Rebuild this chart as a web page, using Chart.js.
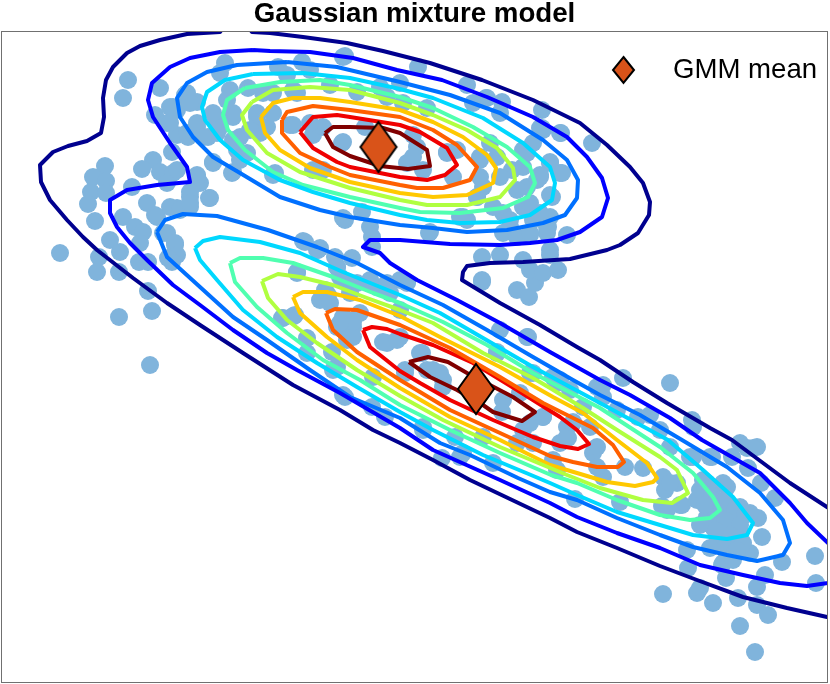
<!DOCTYPE html>
<html>
<head>
<meta charset="utf-8">
<title>Gaussian mixture model</title>
<script src="https://cdn.jsdelivr.net/npm/chart.js@4"></script>
<style>
  body { margin: 0; background: #fff; }
  canvas { display: block; }
</style>
</head>
<body>
<canvas id="chart" width="830" height="684"></canvas>
<script>
const xRange = [1, 828];
const yRange = [31, 683];

//observations
const samples = [
  [128,80],[123,98],[160,88],[155,115],[173,107],[185,95],[197,102],[167,123],[177,135],[188,137],[197,127],[208,137],
  [213,162],[232,173],[172,152],[153,160],[142,169],[160,172],[173,173],[197,175],[200,183],[167,183],[132,187],[209,198],
  [147,203],[190,197],[190,207],[177,208],[155,215],[105,166],[93,177],[106,181],[91,192],[88,204],[106,193],[95,221],
  [123,217],[135,227],[143,232],[167,233],[175,245],[110,240],[120,252],[60,253],[99,257],[97,272],[119,272],[139,262],
  [148,262],[140,243],[148,291],[152,311],[119,317],[150,365],[163,233],[175,243],[177,255],[168,258],[172,262],[157,217],
  [303,241],[317,250],[297,272],[282,318],[294,316],[307,338],[307,353],
  [220,73],[230,90],[248,88],[217,120],[233,113],[257,117],[260,133],[247,153],[233,140],[217,133],[240,160],
  [345,56],[418,67],[467,85],[487,98],[502,102],[542,110],[302,62],[278,67],[400,83],[380,87],[473,103],[542,128],[527,153],
  [343,142],[313,135],[365,127],[323,127],[290,125],[413,135],[417,147],[407,163],[447,153],[453,177],[480,160],[490,143],
  [323,170],[273,175],[345,220],[362,212],[370,227],[430,232],[463,217],[305,242],[320,248],[372,247],[510,227],[503,213],
  [523,207],[523,167],[527,187],[533,220],[483,187],[477,197],[537,180],[403,103],[427,108],[387,97],[357,92],[330,85],[293,90],
  [592,143],[561,133],[543,130],[550,163],[560,173],[552,197],[550,217],[567,235],[540,177],[548,227],[550,250],
  [318,250],[335,257],[352,258],[429,233],[482,257],[500,255],[523,260],[550,255],[482,280],[517,290],[529,297],[535,283],
  [530,270],[543,273],[558,270],[517,237],[530,235],[547,233],[297,273],[327,297],[325,290],[337,267],[343,280],[347,320],
  [337,327],[370,283],[390,293],[400,310],[407,282],[295,315],[333,370],[343,395],[372,407],[385,417],[423,430],[442,458],
  [347,340],[383,342],[400,337],[420,353],[405,370],[440,373],[443,387],[500,330],[528,337],[497,353],[530,373],[503,400],
  [543,417],[560,443],[567,427],[523,430],[483,437],[460,457],[373,377],[320,300],[360,313],[353,327],[553,377],
  [670,383],[623,378],[603,385],[692,420],[693,427],[747,448],[757,447],[732,457],[748,468],[761,483],[775,498],[758,518],
  [762,537],[815,556],[782,562],[687,550],[688,568],[750,513],[575,499],[620,502],[603,477],[593,453],[568,438],[573,422],
  [625,467],[643,468],[665,490],[662,506],[682,505],[700,497],[690,457],[710,457],[707,483],[727,487],[730,507],[707,517],
  [720,527],[737,523],[717,543],[743,543],[727,557],[750,553],[638,417],[650,415],[617,410],[660,430],[670,447],[583,407],
  [603,397],[560,380],[663,477],[677,483],[723,563],
  [663,594],[697,593],[700,588],[713,603],[738,598],[757,587],[765,575],[757,605],[768,615],[740,626],[755,652],[816,583],
  [726,578],[722,565],[733,560],[730,543],[710,520],[720,520],[740,507],[727,507],[720,533],[740,533],[713,527]
];

//extra observations inside the dense parts of the clusters
const denseSamples = [
  [486,98],[560,133],[540,128],[500,113],[523,150],[550,162],[562,173],[540,175],[550,195],[533,143],[512,170],[500,177],[517,190],
  [480,157],[457,150],[447,152],[477,197],[493,207],[460,217],[467,220],[510,220],[503,233],[517,237],[530,233],[540,213],[547,227],
  [413,157],[423,170],[480,177],[497,157],[530,203],
  [225,63],[227,100],[310,70],[343,57],[187,93],[177,110],[170,107],[190,103],[170,123],[187,133],[197,123],[203,137],[213,163],
  [233,172],[237,150],[240,137],[233,117],[220,127],[213,113],[257,113],[250,130],[267,127],[263,93],[273,93],[273,113],[297,93],
  [293,125],[310,123],[342,143],[275,173],[313,170],[177,170],[197,177],[190,192],[210,198],[170,207],[180,210],[190,203],[343,218],[287,75],
  [337,267],[340,277],[370,280],[323,298],[328,295],[350,293],[343,317],[343,330],[353,337],[387,343],[397,340],[283,318],[293,316],
  [332,352],[337,367],[345,397],[372,237],[377,287],[400,280],[330,303],[353,322],[340,323],[387,283],[357,283],
  [482,282],[527,337],[422,353],[407,283],[433,370],[443,380],[427,370],[497,352],[533,373],[520,393],[557,383],[570,390],[597,387],
  [502,412],[530,423],[543,417],[567,437],[573,423],[590,427],[597,447],[597,467],[423,427],[405,373],[463,453],[455,437],[493,463],
  [517,443],[533,443],[553,460],[557,470],
  [753,448],[740,443],[670,483],[680,505],[667,510],[693,457],[712,457],[703,480],[723,483],[697,500],[710,523],
  [700,490],[712,495],[725,500],[735,510],[745,515],[715,510],[725,520],[705,505],[740,525],[730,535],[715,530],[700,525],[742,545],
  [725,548],[735,552],[710,548],[737,550]
];

//density contours, lowest level first
const levelNavy = [
  [236,10],[220,32],[187,34],[160,40],[140,46],[127,53],[113,67],[106,80],[103,98],[104,117],[101,133],[87,141],[68,146],[53,152],
  [40,165],[41,182],[50,200],[67,220],[83,237],[97,250],[133,278],[167,303],[200,325],[243,353],[293,385],[340,410],[373,430],[400,443],
  [433,460],[470,480],[510,499],[550,518],[577,532],[617,548],[660,566],[697,580],[743,597],[787,608],[827,617],[840,620]
];
const levelNavyUpper = [
  [236,10],[252,32],[270,33],[303,37],[347,43],[383,51],[430,63],[482,80],[533,100],[580,123],[607,145],[630,167],[643,183],[650,202],
  [649,215],[638,233],[620,245],[607,250],[570,259],[523,262],[490,263],[467,266],[463,272],[462,280],[500,303],[540,325],[577,347],
  [600,360],[633,382],[667,403],[710,428],[732,440],[790,483],[827,507],[850,522]
];
const levelBlue = [
  [253,50],[270,51],[310,52],[353,58],[397,70],[442,80],[487,97],[533,117],[567,137],[587,157],[602,178],[608,198],[602,217],[580,232],
  [557,240],[530,243],[500,245],[450,244],[400,240],[370,240],[363,247],[380,253],[390,263],[417,280],[457,300],[500,323],[550,352],
  [600,380],[630,395],[670,418],[702,440],[760,473],[790,503],[807,523],[827,542],[840,555],[840,580],[828,583],[807,586],[780,583],
  [743,575],[700,565],[660,548],[617,533],[577,517],[550,503],[500,480],[433,450],[400,428],[340,393],[297,370],[267,353],[233,330],
  [200,305],[173,285],[147,260],[130,243],[117,227],[110,213],[110,200],[127,190],[157,185],[190,182],[187,167],[170,143],[153,117],
  [148,100],[152,83],[170,67],[190,58],[220,52],[253,50]
];
const levelAzureUpper = [
  [287,62],[337,67],[400,82],[450,95],[500,113],[543,140],[567,160],[578,180],[577,198],[565,215],[543,223],[507,230],[467,232],[433,228],
  [400,225],[350,217],[320,210],[280,197],[240,173],[213,157],[193,137],[180,117],[177,98],[187,83],[207,72],[237,65],[287,62]
];
const levelAzureLower = [
  [157,232],[165,220],[183,214],[217,216],[268,230],[317,247],[357,263],[400,285],[443,305],[487,330],[533,357],[573,380],[600,395],[640,415],
  [682,440],[727,467],[760,493],[783,520],[790,543],[783,555],[757,561],[727,555],[693,547],[660,535],[617,518],[577,500],[550,492],[518,478],
  [470,455],[440,443],[400,418],[350,397],[310,370],[267,340],[233,317],[200,287],[167,257],[157,232]
];
const levelCyanUpper = [
  [253,74],[303,73],[350,78],[400,89],[433,98],[483,118],[523,143],[550,167],[555,183],[552,200],[530,215],[500,222],[460,223],[427,220],
  [400,215],[350,203],[313,192],[280,180],[243,160],[220,140],[205,120],[202,107],[207,92],[225,80],[253,74]
];
const levelCyanLower = [
  [195,248],[203,241],[220,237],[260,242],[300,253],[343,272],[400,295],[440,313],[483,338],[533,367],[600,403],[668,440],[703,470],[733,497],
  [753,523],[747,535],[727,539],[693,535],[660,525],[617,512],[577,495],[550,483],[531,475],[483,455],[433,430],[400,412],[357,387],[317,363],
  [277,337],[243,310],[217,280],[200,260],[195,248]
];
const levelTealUpper = [
  [245,88],[280,82],[320,80],[350,85],[400,97],[433,108],[473,127],[507,147],[530,167],[535,183],[528,197],[503,208],[460,213],[420,212],
  [400,208],[350,197],[303,185],[273,172],[245,150],[228,130],[223,115],[227,100],[245,88]
];
const levelTealLower = [
  [230,263],[240,258],[263,258],[293,263],[333,277],[373,293],[400,303],[443,322],[487,345],[533,373],[600,408],[660,447],[693,473],[713,497],
  [720,510],[710,518],[690,520],[660,515],[617,500],[577,483],[551,475],[500,453],[450,430],[400,405],[360,380],[323,360],[287,333],[257,307],
  [235,282],[230,263]
];
const levelLimeUpper = [
  [252,102],[273,90],[310,87],[350,90],[400,103],[433,115],[467,130],[497,148],[513,168],[515,180],[500,197],[467,205],[427,205],[400,200],
  [350,188],[300,172],[267,153],[247,130],[242,115],[252,102]
];
const levelLimeLower = [
  [262,281],[278,274],[300,277],[333,285],[367,298],[400,310],[433,323],[483,353],[533,378],[550,388],[583,408],[617,430],[660,457],[677,470],
  [688,493],[672,503],[643,500],[600,488],[567,475],[500,447],[443,420],[400,396],[357,370],[317,343],[287,320],[268,298],[262,281]
];
const levelYellowUpper = [
  [261,117],[273,103],[293,98],[320,98],[350,102],[400,110],[433,122],[463,137],[487,155],[496,168],[493,183],[467,195],[433,197],[400,193],
  [350,182],[310,168],[280,150],[265,133],[261,117]
];
const levelYellowLower = [
  [293,297],[303,292],[327,292],[360,300],[400,316],[440,337],[500,367],[553,397],[583,413],[617,440],[647,463],[657,478],[653,482],[635,486],
  [607,482],[577,473],[550,465],[500,440],[450,417],[400,388],[357,360],[327,337],[300,313],[293,297]
];
const levelOrangeUpper = [
  [282,120],[287,112],[313,106],[350,110],[400,117],[433,130],[457,145],[477,167],[470,180],[443,188],[417,188],[400,185],[370,179],[350,175],
  [330,167],[300,153],[282,133],[282,120]
];
const levelOrangeLower = [
  [326,313],[335,309],[357,310],[400,325],[450,348],[500,377],[543,403],[593,428],[613,445],[624,462],[618,467],[597,467],[573,462],[550,456],
  [500,433],[450,410],[400,380],[357,352],[333,330],[326,313]
];
const levelRedUpper = [
  [300,132],[313,117],[337,115],[350,117],[400,125],[420,132],[447,148],[457,165],[445,175],[427,180],[400,177],[350,167],[337,162],[313,148],[300,132]
];
const levelRedLower = [
  [363,330],[372,327],[387,329],[400,334],[433,345],[473,363],[517,390],[560,417],[577,430],[589,444],[578,449],[560,446],[533,437],[493,420],
  [450,400],[420,383],[400,371],[370,347],[363,330]
];
const levelDarkRedUpper = [
  [325,133],[333,127],[350,127],[383,128],[400,133],[427,150],[430,166],[408,169],[380,166],[350,156],[333,147],[325,133]
];
const levelDarkRedLower = [
  [409,362],[428,357],[448,362],[467,373],[513,397],[535,412],[522,421],[493,412],[483,405],[457,390],[430,377],[409,362]
];

const gmmMeans = [[378.5,147],[476,389]];
const legendLabels = ['GMM mean'];
const titleText = 'Gaussian mixture model';

const contours = [
  [levelNavy, '#00008f'], [levelNavyUpper, '#00008f'],
  [levelBlue, '#0000ff'],
  [levelAzureUpper, '#0070ff'], [levelAzureLower, '#0070ff'],
  [levelCyanUpper, '#00d8ff'], [levelCyanLower, '#00d8ff'],
  [levelTealUpper, '#50ffb0'], [levelTealLower, '#50ffb0'],
  [levelLimeUpper, '#b0ff40'], [levelLimeLower, '#b0ff40'],
  [levelYellowUpper, '#ffc800'], [levelYellowLower, '#ffc800'],
  [levelOrangeUpper, '#ff6000'], [levelOrangeLower, '#ff6000'],
  [levelRedUpper, '#f00000'], [levelRedLower, '#f00000'],
  [levelDarkRedUpper, '#800000'], [levelDarkRedLower, '#800000']
];

const toPoints = (list) => list.map(([x, y]) => ({ x, y }));

//diamond marker, taller than it is wide
const makeDiamond = (w, h) => {
  const c = document.createElement('canvas');
  c.width = w + 4;
  c.height = h + 4;
  const g = c.getContext('2d');
  g.beginPath();
  g.moveTo(c.width / 2, 2);
  g.lineTo(c.width - 2, c.height / 2);
  g.lineTo(c.width / 2, c.height - 2);
  g.lineTo(2, c.height / 2);
  g.closePath();
  g.fillStyle = '#d95319';
  g.fill();
  g.lineWidth = 2;
  g.lineJoin = 'miter';
  g.strokeStyle = '#000';
  g.stroke();
  return c;
};

const legendDiamond = makeDiamond(21, 26);

//axes box and the legend, which sits inside the axes
const frameAndLegend = {
  id: 'frameAndLegend',
  afterDraw(chart) {
    const { ctx, chartArea: a } = chart;
    ctx.save();
    ctx.strokeStyle = '#707070';
    ctx.lineWidth = 1;
    ctx.strokeRect(a.left + 0.5, a.top + 0.5, a.width - 1, a.height - 1);
    ctx.drawImage(legendDiamond, 623.5 - legendDiamond.width / 2, 70 - legendDiamond.height / 2);
    ctx.fillStyle = '#000';
    ctx.font = '27.6px "Liberation Sans"';
    ctx.textBaseline = 'alphabetic';
    ctx.fillText(legendLabels[0], 673, 78);
    ctx.restore();
  }
};

new Chart(document.getElementById('chart'), {
  type: 'scatter',
  data: {
    datasets: [
      {
        label: legendLabels[0],
        data: toPoints(gmmMeans),
        pointStyle: makeDiamond(36, 50),
        pointRadius: 25,
        order: 0
      },
      ...contours.map(([level, color], i) => ({
        data: toPoints(level),
        showLine: true,
        borderColor: color,
        borderWidth: 4,
        borderJoinStyle: 'round',
        pointRadius: 0,
        clip: 0,
        order: 1 + i
      })),
      {
        data: toPoints([...samples, ...denseSamples]),
        pointStyle: 'circle',
        pointRadius: 9,
        pointBackgroundColor: '#80b4dc',
        pointBorderWidth: 0,
        clip: 0,
        order: 50
      }
    ]
  },
  options: {
    responsive: false,
    animation: false,
    layout: { autoPadding: false, padding: { left: 1, right: 2, bottom: 1 } },
    scales: {
      x: { type: 'linear', display: false, min: xRange[0], max: xRange[1] },
      y: { type: 'linear', display: false, min: yRange[0], max: yRange[1], reverse: true }
    },
    plugins: {
      legend: { display: false },
      tooltip: { enabled: false },
      title: {
        display: true,
        text: titleText,
        color: '#000',
        font: { family: '"Liberation Sans"', size: 27.7, weight: 'bold', lineHeight: 1 },
        padding: { top: 1, bottom: 2.3 }
      }
    }
  },
  plugins: [frameAndLegend]
});
</script>
</body>
</html>
